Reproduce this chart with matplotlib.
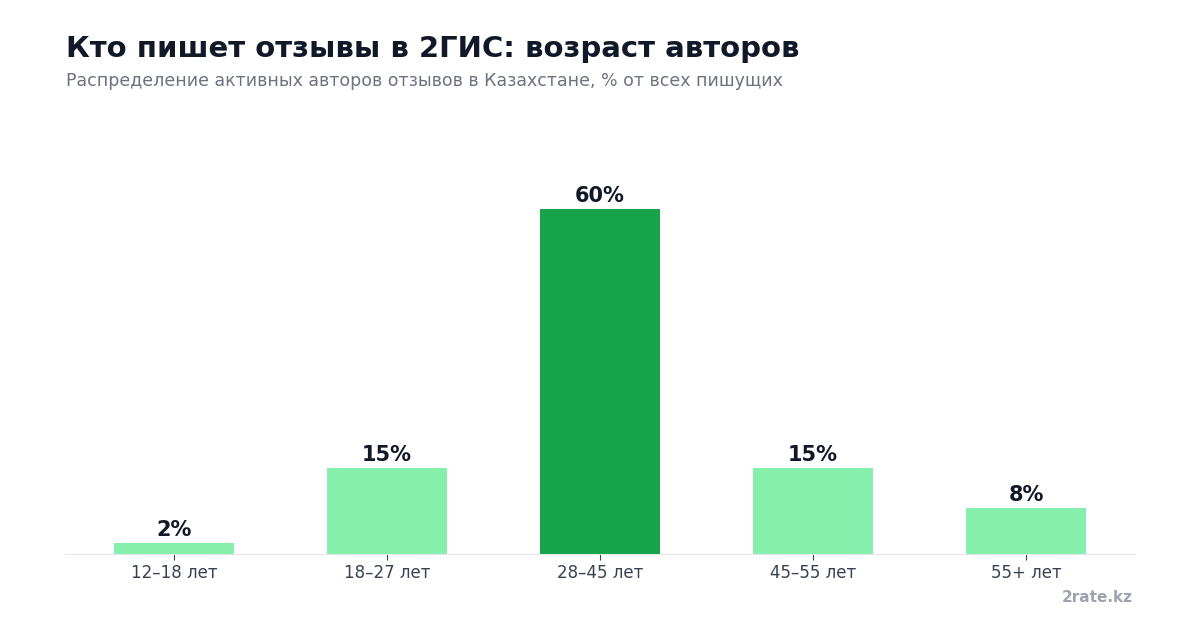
import numpy as np
import matplotlib.pyplot as plt

# データ
categories = ['12–18 лет', '18–27 лет', '28–45 лет', '45–55 лет', '55+ лет']
shares = [2, 15, 60, 15, 8]
highlight = '28–45 лет'

plt.rcParams['font.family'] = ['DejaVu Sans']

fig = plt.figure(figsize=(12, 6.3), dpi=100)
ax = fig.add_axes([0.0545, 0.1206, 0.891, 0.657])

x = np.arange(len(categories))
colors = ['#16a34a' if c == highlight else '#86efac' for c in categories]
bars = ax.bar(x, shares, width=0.56, color=colors, zorder=2)

for rect, v in zip(bars, shares):
    ax.annotate(f'{v}%', xy=(rect.get_x() + rect.get_width() / 2, rect.get_height()),
                xytext=(0, 2), textcoords='offset points', ha='center', va='bottom',
                fontsize=15, fontweight='bold', color='#111827')

ax.set_xlim(-0.51, 4.51)
ax.set_ylim(0, 72)
ax.set_xticks(x, labels=categories)
ax.tick_params(axis='x', length=4, color='#374151', labelsize=12, labelcolor='#374151', pad=3)
ax.set_yticks([])
for s in ['top', 'right', 'left']:
    ax.spines[s].set_visible(False)
ax.spines['bottom'].set_color('#e5e7eb')

fig.text(0.055, 0.910, 'Кто пишет отзывы в 2ГИС: возраст авторов', fontsize=21,
         fontweight='bold', color='#111827', ha='left', va='baseline')
fig.text(0.055, 0.864, 'Распределение активных авторов отзывов в Казахстане, % от всех пишущих',
         fontsize=12.5, color='#6b7280', ha='left', va='baseline')
fig.text(0.944, 0.045, '2rate.kz', fontsize=11, fontweight='bold', color='#9ca3af',
         ha='right', va='baseline')

fig.savefig('out.png', dpi=100, facecolor='white')
